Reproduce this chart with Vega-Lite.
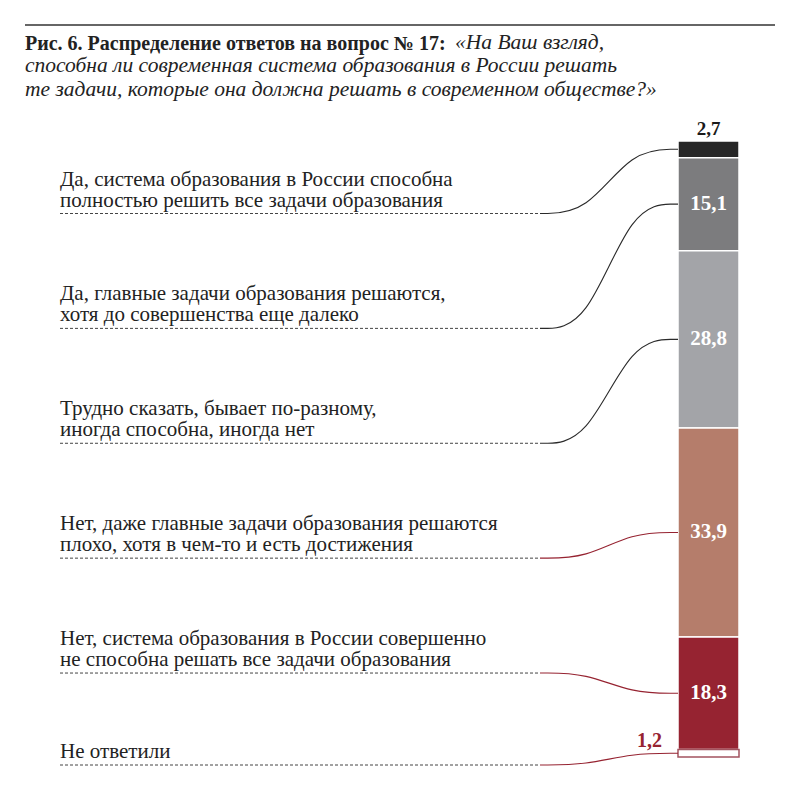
{
  "$schema": "https://vega.github.io/schema/vega-lite/v6.json",
  "width": 800,
  "height": 790,
  "padding": 0,
  "autosize": {"type": "none"},
  "background": "white",
  "config": {
    "view": {"stroke": null},
    "locale": {"number": {"decimal": ",", "thousands": "\u00a0", "grouping": [3], "currency": ["", " руб."]}}
  },
  "title": {
    "text": "Рис. 6. Распределение ответов на вопрос № 17:",
    "subtitle": [
      "\u200b\u00a0\u00a0\u00a0\u00a0\u00a0\u00a0\u00a0\u00a0\u00a0\u00a0\u00a0\u00a0\u00a0\u00a0\u00a0\u00a0\u00a0\u00a0\u00a0\u00a0\u00a0\u00a0\u00a0\u00a0\u00a0\u00a0\u00a0\u00a0\u00a0\u00a0\u00a0\u00a0\u00a0\u00a0\u00a0\u00a0\u00a0\u00a0\u00a0\u00a0\u00a0\u00a0\u00a0\u00a0\u00a0\u00a0\u00a0\u00a0\u00a0\u00a0\u00a0\u00a0\u00a0\u00a0\u00a0\u00a0\u00a0\u00a0\u00a0\u00a0\u00a0\u00a0\u00a0\u00a0\u00a0\u00a0\u00a0\u00a0\u00a0\u00a0\u00a0\u00a0\u00a0\u00a0\u00a0\u00a0\u00a0\u00a0\u00a0\u00a0«На Ваш взгляд,",
      "способна ли современная система образования в России решать",
      "те задачи, которые она должна решать в современном обществе?»"
    ],
    "anchor": "start",
    "frame": "group",
    "dx": 25,
    "offset": -102,
    "font": "Liberation Serif",
    "fontSize": 20,
    "fontWeight": "bold",
    "color": "#222222",
    "subtitleFont": "Liberation Serif",
    "subtitleFontSize": 21.5,
    "subtitleFontStyle": "italic",
    "subtitleColor": "#222222",
    "subtitlePadding": -22,
    "subtitleLineHeight": 23.5
  },
  "data": {
    "values": [
      {"answer": "Да, система образования в России способна\nполностью решить все задачи образования", "share": 2.7, "rank": 1},
      {"answer": "Да, главные задачи образования решаются,\nхотя до совершенства еще далеко", "share": 15.1, "rank": 2},
      {"answer": "Трудно сказать, бывает по-разному,\nиногда способна, иногда нет", "share": 28.8, "rank": 3},
      {"answer": "Нет, даже главные задачи образования решаются\nплохо, хотя в чем-то и есть достижения", "share": 33.9, "rank": 4},
      {"answer": "Нет, система образования в России совершенно\nне способна решать все задачи образования", "share": 18.3, "rank": 5},
      {"answer": "Не ответили", "share": 1.2, "rank": 6}
    ]
  },
  "transform": [
    {"stack": "share", "groupby": [], "sort": [{"field": "rank", "order": "ascending"}], "as": ["y0", "y1"]},
    {"calculate": "(datum.y0 + datum.y1) / 2", "as": "mid"},
    {"calculate": "datum.rank < 6 ? 11.77 + 18.65 * (datum.rank - 1) : 101.3", "as": "anchor"},
    {"calculate": "split(datum.answer, '\\n')", "as": "lines"}
  ],
  "layer": [
    {
      "data": {"values": [{"part": "top rule"}]},
      "mark": {"type": "rule", "stroke": "#333333", "strokeWidth": 1.6},
      "encoding": {"x": {"value": 25}, "x2": {"value": 775}, "y": {"value": 25}}
    },
    {
      "mark": {"type": "rect", "strokeWidth": 1.5},
      "encoding": {
        "x": {"value": 678},
        "x2": {"value": 739},
        "y": {"field": "y0", "type": "quantitative", "scale": {"domain": [0, 100], "range": [141, 757]}, "axis": null},
        "y2": {"field": "y1"},
        "fill": {"field": "rank", "type": "ordinal", "scale": {"domain": [1, 2, 3, 4, 5, 6], "range": ["#262626", "#7c7c7e", "#a3a4a8", "#b57d6b", "#962331", "#ffffff"]}, "legend": null},
        "stroke": {"condition": {"test": "datum.rank == 6", "value": "#a2535f"}, "value": "#ffffff"}
      }
    },
    {
      "transform": [
        {"calculate": "datum.anchor", "as": "pa"},
        {"calculate": "datum.anchor", "as": "pb"},
        {"calculate": "datum.mid", "as": "pc"},
        {"calculate": "datum.mid", "as": "pd"},
        {"fold": ["pa", "pb", "pc", "pd"], "as": ["pt", "py"]}
      ],
      "mark": {"type": "line", "interpolate": "basis", "strokeWidth": 1.1},
      "encoding": {
        "x": {"field": "pt", "type": "ordinal", "scale": {"type": "point", "domain": ["pa", "pb", "pc", "pd"], "range": [540, 678], "padding": 0}, "axis": null},
        "y": {"field": "py", "type": "quantitative", "scale": {"domain": [0, 100], "range": [141, 757]}, "axis": null},
        "detail": {"field": "rank", "type": "ordinal"},
        "stroke": {"condition": {"test": "datum.rank <= 3", "value": "#2a2a2a"}, "value": "#962331"}
      }
    },
    {
      "mark": {"type": "rule", "stroke": "#444444", "strokeWidth": 1, "strokeDash": [3, 2]},
      "encoding": {
        "x": {"value": 60},
        "x2": {"value": 540},
        "y": {"field": "anchor", "type": "quantitative", "scale": {"domain": [0, 100], "range": [141, 757]}, "axis": null}
      }
    },
    {
      "transform": [{"calculate": "peek(datum.lines)", "as": "lastLine"}],
      "mark": {"type": "text", "align": "left", "baseline": "alphabetic", "dy": -7, "font": "Liberation Serif", "fontSize": 21, "color": "#222222"},
      "encoding": {
        "x": {"value": 60},
        "y": {"field": "anchor", "type": "quantitative", "scale": {"domain": [0, 100], "range": [141, 757]}, "axis": null},
        "text": {"field": "lastLine", "type": "nominal"}
      }
    },
    {
      "transform": [
        {"filter": "length(datum.lines) > 1"},
        {"calculate": "datum.lines[0]", "as": "firstLine"}
      ],
      "mark": {"type": "text", "align": "left", "baseline": "alphabetic", "dy": -28, "font": "Liberation Serif", "fontSize": 21, "color": "#222222"},
      "encoding": {
        "x": {"value": 60},
        "y": {"field": "anchor", "type": "quantitative", "scale": {"domain": [0, 100], "range": [141, 757]}, "axis": null},
        "text": {"field": "firstLine", "type": "nominal"}
      }
    },
    {
      "transform": [{"filter": "datum.rank >= 2 && datum.rank <= 5"}],
      "mark": {"type": "text", "align": "center", "baseline": "middle", "font": "Liberation Serif", "fontSize": 21, "fontWeight": "bold", "color": "#ffffff"},
      "encoding": {
        "x": {"value": 708.5},
        "y": {"field": "mid", "type": "quantitative", "scale": {"domain": [0, 100], "range": [141, 757]}, "axis": null},
        "text": {"field": "share", "type": "quantitative", "format": ".1f"}
      }
    },
    {
      "transform": [{"filter": "datum.rank == 1"}],
      "mark": {"type": "text", "align": "center", "baseline": "alphabetic", "dy": -6, "font": "Liberation Serif", "fontSize": 19, "fontWeight": "bold", "color": "#1a1a1a"},
      "encoding": {
        "x": {"value": 708.5},
        "y": {"field": "y0", "type": "quantitative", "scale": {"domain": [0, 100], "range": [141, 757]}, "axis": null},
        "text": {"field": "share", "type": "quantitative", "format": ".1f"}
      }
    },
    {
      "transform": [{"filter": "datum.rank == 6"}],
      "mark": {"type": "text", "align": "right", "baseline": "alphabetic", "dy": -3, "font": "Liberation Serif", "fontSize": 20, "fontWeight": "bold", "color": "#962331"},
      "encoding": {
        "x": {"value": 662},
        "y": {"field": "y0", "type": "quantitative", "scale": {"domain": [0, 100], "range": [141, 757]}, "axis": null},
        "text": {"field": "share", "type": "quantitative", "format": ".1f"}
      }
    }
  ]
}
